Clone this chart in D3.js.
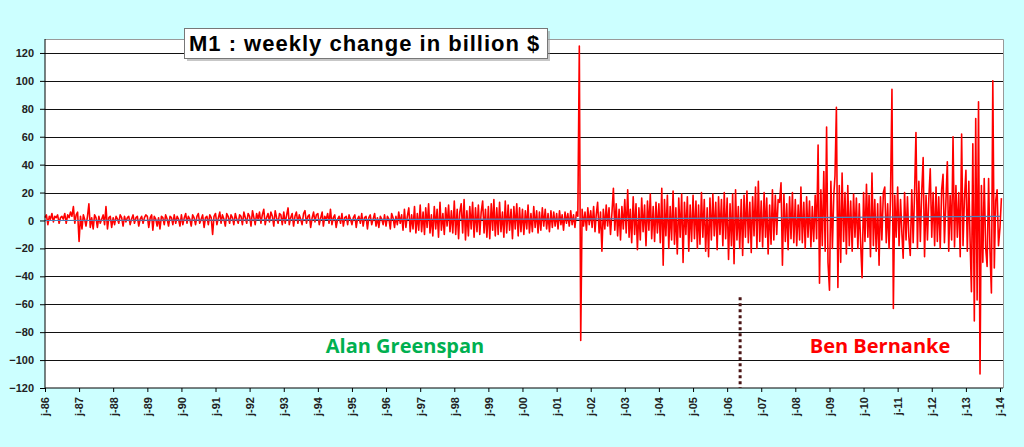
<!DOCTYPE html>
<html>
<head>
<meta charset="utf-8">
<script src="https://cdn.jsdelivr.net/npm/d3@7"></script>
<style>
  body { margin: 0; background: #ccffff; }
  svg { display: block; }
</style>
</head>
<body>
<script>
// M1 change (billion $), two readings per month
var y86 = [2, 4, -3, 3, 1, 5, -1, 3, 2, 4, -2, 2, 3, 1, 5, -2, 4, 2, 6, 3, 10, -2, 4, 6];
var y87 = [-15, 3, -6, 4, 1, -4, 3, 12, -5, 2, -6, 4, 2, -5, 3, -2, 1, 4, -3, 10, -6, 2, 3, -5];
var y88 = [2, -3, 3, 1, -2, 4, 2, -4, 3, -1, 2, 3, -3, 1, 4, -2, 2, 3, -4, 1, 3, -2, 2, 4];
var y89 = [3, -5, 2, 4, -7, 3, 1, -4, 2, -6, 3, 2, -3, 4, 1, -4, 3, 2, -3, 4, -2, 3, 1, -4];
var y90 = [4, -3, 2, 5, -2, 3, 1, -4, 4, 2, -3, 3, 5, -2, 1, 4, -5, 2, 3, -3, 4, 2, -10, 3];
var y91 = [5, -3, 2, 6, -2, 4, 1, -4, 5, 3, -2, 4, 2, -3, 5, 1, -2, 4, 3, -3, 6, 2, -2, 5];
var y92 = [3, -4, 7, 2, -3, 5, 1, 6, -2, 4, 8, -3, 2, 5, -1, 6, 3, -4, 7, 2, -2, 5, 4, -3];
var y93 = [6, -2, 4, 9, -3, 2, 5, -4, 3, 6, -2, 4, 1, -3, 5, 7, -2, 3, 4, -5, 2, 6, -1, 4];
var y94 = [5, -3, 2, 6, -4, 3, 1, 5, -2, 8, -3, 2, 4, -5, 1, 3, -2, 5, -4, 2, 3, -3, 4, 1];
var y95 = [-3, 2, 4, -5, 1, 3, -2, 5, -4, 2, 3, -6, 2, 4, -3, 1, 5, -4, 2, -5, 3, 1, -3, 4];
var y96 = [-4, 3, 1, -6, 5, 2, -5, 3, -3, 6, -2, 4, -7, 8, -5, 3, 9, -8, 4, -6, 10, -9, 5, -7];
var y97 = [11, -8, 6, -10, 9, -5, 12, -9, 4, -11, 10, -6, 8, -12, 13, -7, 5, -10, 9, -4, 11, -8, 7, -9];
var y98 = [14, -10, 8, -13, 6, 12, -9, 15, -14, 7, -11, 10, -6, 13, -12, 9, -8, 11, -10, 6, 14, -9, 8, -12];
var y99 = [10, -13, 12, -7, 15, -11, 9, -10, 13, -8, 6, -12, 14, -9, 11, -7, 8, -13, 10, -6, 12, -11, 9, -8];
var y00 = [8, -10, 7, -6, 11, -9, 5, -8, 10, -5, 7, -9, 6, -7, 9, -4, 8, -6, 5, -8, 7, -5, 6, -4];
var y01 = [5, -6, 7, -3, 4, -7, 6, -2, 5, -4, 7, -3, 4, -5, 6, 3, 125, -86, 8, -4, 6, -7, 9, -3];
var y02 = [7, -5, 10, -8, 4, 13, -9, 6, -22, 8, -6, 11, -4, 9, -10, 5, 23, -7, 12, -11, 8, -14, 10, -6];
var y03 = [15, -9, 22, -12, 8, -16, 17, -10, 12, -21, 9, -14, 16, -8, 11, -18, 14, -7, 19, -13, 10, -15, 13, -9];
var y04 = [12, -16, 23, -32, 15, -11, 18, -20, 10, -14, 21, -17, 9, -24, 16, -12, 19, -30, 13, -10, 17, -22, 11, -15];
var y05 = [18, -13, 14, -20, 11, -17, 20, -12, 15, -22, 9, -26, 16, -14, 19, -11, 13, -21, 17, -10, 15, -18, 20, -13];
var y06 = [16, -28, 12, -18, 19, -31, 22, -14, 10, -20, 15, -25, 18, -12, 21, -16, 13, -23, 17, -11, 24, -20, 28, -15];
var y07 = [14, -19, 20, -12, 16, -24, 11, -17, 22, -14, 18, -10, 15, 13, 27, -32, 19, -15, 12, -21, 17, -13, 20, -16];
var y08 = [15, -18, 11, -14, 24, -16, 13, -20, 17, -12, 14, -19, 10, -15, 18, -13, 54, -45, 22, -18, 35, -22, 67, -30];
var y09 = [-50, 28, -20, 18, 32, 81, -48, 25, -30, 34, -15, 20, -24, 25, -18, 14, -22, 19, -12, 16, -20, 12, -17, -41];
var y10 = [20, -15, 26, -12, 18, -26, 34, -18, 15, -22, 12, -32, 17, -14, 20, 24, -16, 12, -20, 15, 94, -63, 18, -12];
var y11 = [24, -18, 15, -10, -27, 20, -14, 17, -12, -25, 22, -16, 19, 63, -20, 28, -15, 21, 45, -26, 18, -14, 16, 37];
var y12 = [-12, 20, -18, 24, -15, 17, -20, 22, 33, -16, 14, 42, -22, 18, -14, 60, -19, 25, -12, 20, -26, 62, -18, 15];
var y13 = [36, -22, 28, -18, -51, 55, -72, 73, -57, 85, -110, 25, -30, 30, -20, -33, 30, -22, -52, 100, -34, 14, 22, -18];
var y14 = [-5, 16];

var yearly = [y86, y87, y88, y89, y90, y91, y92, y93, y94, y95, y96, y97, y98, y99,
  y00, y01, y02, y03, y04, y05, y06, y07, y08, y09, y10, y11, y12, y13, y14];

// slow blue baseline (year, value)
var trendYears = [1986, 2001, 2014];
var trendValues = [0, 1, 3];

var yTicks = [-120, -100, -80, -60, -40, -20, 0, 20, 40, 60, 80, 100, 120];
var tickYears = d3.range(1986, 2015);

var width = 1024, height = 447;
var plot = { left: 45, right: 1003, top: 39, bottom: 388 };

var series = [];
yearly.forEach(function (vals, k) {
  vals.forEach(function (v, i) {
    series.push({ date: new Date(1986 + k, Math.floor(i / 2), i % 2 ? 16 : 1), value: v });
  });
});

var x = d3.scaleTime()
  .domain([new Date(1986, 0, 1), new Date(2014, 0, 1)])
  .range([plot.left, 1000]);

var y = d3.scaleLinear()
  .domain([-120, 130])
  .range([plot.bottom, plot.top]);

var svg = d3.select("body").append("svg")
  .attr("width", width)
  .attr("height", height);

svg.append("rect")
  .attr("x", plot.left).attr("y", plot.top)
  .attr("width", plot.right - plot.left).attr("height", plot.bottom - plot.top)
  .attr("fill", "white");

// grid
svg.append("g")
  .selectAll("line")
  .data(yTicks.filter(function (d) { return d > -120; }))
  .enter().append("line")
  .attr("x1", plot.left).attr("x2", plot.right)
  .attr("y1", function (d) { return Math.round(y(d)) + 0.5; })
  .attr("y2", function (d) { return Math.round(y(d)) + 0.5; })
  .attr("stroke", "#111")
  .attr("stroke-width", 1);

// plot frame top/right
svg.append("path")
  .attr("d", "M" + plot.left + "," + (plot.top + 0.5) + "H" + (plot.right + 0.5) + "V" + plot.bottom)
  .attr("fill", "none")
  .attr("stroke", "#999");

var line = d3.line()
  .x(function (d) { return x(d.date); })
  .y(function (d) { return y(d.value); });

svg.append("path")
  .datum(series)
  .attr("d", line)
  .attr("fill", "none")
  .attr("stroke", "#ff0000")
  .attr("stroke-width", 1.6)
  .attr("stroke-linejoin", "round");

var trend = trendYears.map(function (yr, i) { return { date: new Date(yr, 0, 1), value: trendValues[i] }; });
svg.append("path")
  .datum(trend)
  .attr("d", line)
  .attr("fill", "none")
  .attr("stroke", "#4f81bd")
  .attr("stroke-width", 1.2);

// axes
var yAxis = svg.append("g")
  .attr("transform", "translate(" + plot.left + ",0)")
  .call(d3.axisLeft(y).tickValues(yTicks).tickSize(5).tickPadding(6));
yAxis.select(".domain").attr("d", "M0," + plot.top + "V" + plot.bottom).attr("stroke", "#000");
yAxis.selectAll("text")
  .style("font", "bold 11px Arial, 'Liberation Sans', sans-serif")
  .attr("fill", "#222");

var xAxis = svg.append("g")
  .attr("transform", "translate(0," + plot.bottom + ")")
  .call(d3.axisBottom(x)
    .tickValues(tickYears.map(function (yr) { return new Date(yr, 0, 1); }))
    .tickFormat(function (d) { return "j-" + d3.timeFormat("%y")(d); })
    .tickSize(4));
xAxis.select(".domain").attr("d", "M" + plot.left + ",0H" + plot.right).attr("stroke", "#000");
xAxis.selectAll("text")
  .style("font", "bold 11px Arial, 'Liberation Sans', sans-serif")
  .attr("fill", "#222")
  .attr("transform", "rotate(-90)")
  .attr("x", -9)
  .attr("y", 0)
  .attr("dy", "0.35em")
  .style("text-anchor", "end");

// dotted divider between the two chairmen
svg.append("line")
  .attr("x1", x(new Date(2006, 4, 20))).attr("x2", x(new Date(2006, 4, 20)))
  .attr("y1", y(-55)).attr("y2", plot.bottom)
  .attr("stroke", "#4a1414")
  .attr("stroke-width", 3)
  .attr("stroke-dasharray", "3,3");

svg.append("text")
  .attr("x", 405).attr("y", 353)
  .attr("text-anchor", "middle")
  .style("font", "bold 20px 'Open Sans', Lato, sans-serif")
  .attr("fill", "#00b050")
  .text("Alan Greenspan");

svg.append("text")
  .attr("x", 880).attr("y", 353)
  .attr("text-anchor", "middle")
  .style("font", "bold 20px 'Open Sans', Lato, sans-serif")
  .attr("fill", "#ff0000")
  .text("Ben Bernanke");

// title box
svg.append("rect")
  .attr("x", 187).attr("y", 31)
  .attr("width", 363).attr("height", 30)
  .attr("fill", "#999").attr("opacity", 0.55);
svg.append("rect")
  .attr("x", 184.5).attr("y", 28.5)
  .attr("width", 363).attr("height", 30)
  .attr("fill", "white")
  .attr("stroke", "#777");
svg.append("text")
  .attr("x", 189).attr("y", 51)
  .style("font", "bold 22px Arial, 'Liberation Sans', sans-serif")
  .style("letter-spacing", "1px")
  .attr("fill", "#000")
  .text("M1 : weekly change in billion $");
</script>
</body>
</html>
